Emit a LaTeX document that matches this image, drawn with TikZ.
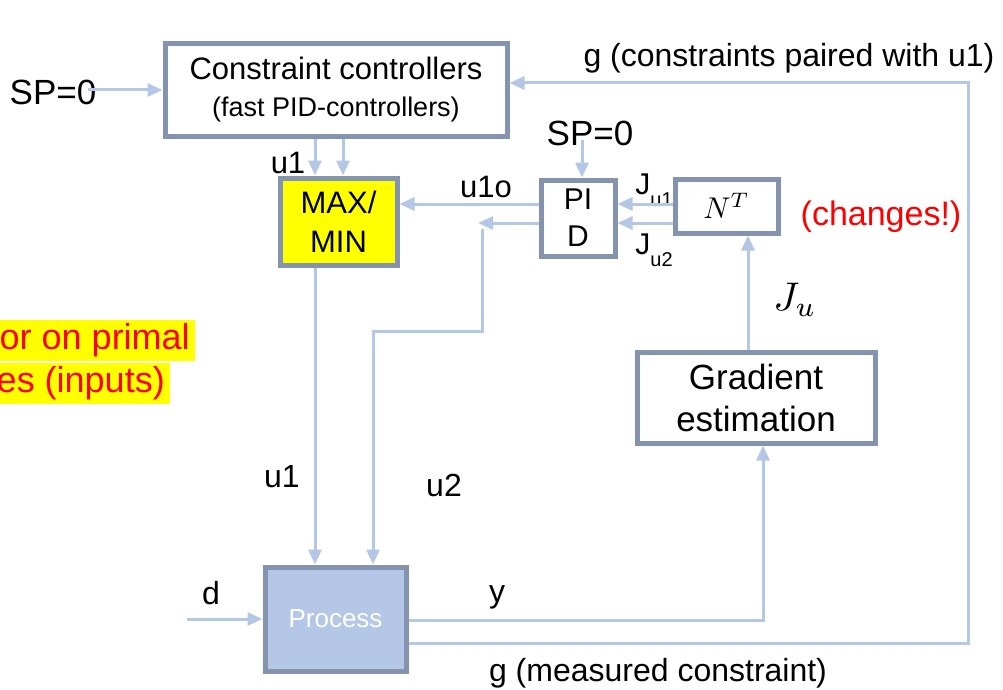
\documentclass[tikz,border=0pt]{standalone}
\usepackage{graphicx}
\usepackage{fontspec}
\setmainfont{Liberation Sans}
\usetikzlibrary{arrows.meta}
\definecolor{ln}{HTML}{B4C7E7}
\definecolor{bd}{HTML}{8594AE}
\definecolor{hl}{HTML}{FFFF00}
\newcommand{\fsz}[2]{\fontsize{#1}{#2}\selectfont}
\tikzset{
 blk/.style={draw=bd, line width=5pt, inner sep=0pt, align=center, fill=white},
 con/.style={draw=ln, line width=3pt},
 arr/.style={con, -{Triangle[length=15pt,width=13pt]}},
 lbl/.style={inner sep=0pt, align=center},
 warn/.style={fill=hl, text=red, inner xsep=5pt, inner ysep=0pt, minimum height=41pt, anchor=east, font=\fsz{36}{40}}
}
\begin{document}
\begin{tikzpicture}[x=1pt,y=-1pt]
\useasboundingbox (0,0) rectangle (1003,690);
% blocks
\node[blk, minimum width=342pt, minimum height=92pt, font=\fsz{31}{37}] (cc) at (336,90)
  {Constraint controllers\\{\fsz{27}{37}(fast PID-controllers)}};
\node[blk, fill=hl, minimum width=117pt, minimum height=87pt, font=\fsz{31}{39}] (mm) at (338.5,221.5) {MAX/\\MIN};
\node[blk, minimum width=74pt, minimum height=76pt, font=\fsz{30}{37}] (pid) at (578,218) {PI\\D};
\node[blk, minimum width=103pt, minimum height=54pt] (nt) at (726.5,206) {\scalebox{3}{$N^T$}};
\node[blk, minimum width=238pt, minimum height=91pt, font=\fsz{35}{42}] (ge) at (756,397.5) {Gradient\\estimation};
\node[blk, fill=ln, text=white, minimum width=141pt, minimum height=104pt, font=\fsz{26}{30}] (pr) at (335.5,619) {Process};
% labels
\node[lbl, font=\fsz{35}{40}] (sp1) at (53,92) {SP=0};
\node[lbl, font=\fsz{35}{40}] (sp2) at (590,133) {SP=0};
\node[lbl, font=\fsz{31}{36}] (lu1a) at (288,163) {u1};
\node[lbl, font=\fsz{31}{36}] (lu1o) at (486,187) {u1o};
\node[lbl, font=\fsz{30}{36}] (lj1) at (654,190) {J\raisebox{-0.4em}{\fsz{20}{24}u1}};
\node[lbl, font=\fsz{30}{36}] (lj2) at (654,250) {J\raisebox{-0.4em}{\fsz{20}{24}u2}};
\node[lbl, font=\fsz{34}{40}, text=red] (lch) at (881,217) {(changes!)};
\node[lbl, font=\fsz{32}{38}] (lg1) at (789,58) {g (constraints paired with u1)};
\node[lbl] (lju) at (795,300) {\scalebox{4}{$J_u$}};
\node[lbl, font=\fsz{32}{38}] (lu1b) at (282,477) {u1};
\node[lbl, font=\fsz{32}{38}] (lu2) at (444,485) {u2};
\node[lbl, font=\fsz{32}{38}] (ld) at (211,593) {d};
\node[lbl, font=\fsz{32}{38}] (ly) at (497,597) {y};
\node[lbl, font=\fsz{32}{38}] (lg2) at (658,673) {g (measured constraint)};
\node[warn] (w1) at (195,340.5) {or on primal};
\node[warn] (w2) at (170,383) {es (inputs)};
% helper coordinates
\coordinate (spl) at (88,90);
\coordinate (c1) at (315,0);
\coordinate (c2) at (343,0);
\coordinate (ya) at (0,204);
\coordinate (yb) at (0,223);
\coordinate (jn) at (478,223);
\coordinate (k1) at (482,229);
\coordinate (k2) at (482,331);
\coordinate (k3) at (373,331);
\coordinate (sps) at (582,140);
\coordinate (cg) at (748,0);
\coordinate (cy) at (763,620);
\coordinate (gr) at (968,643);
\coordinate (gt) at (968,83);
\coordinate (dl) at (187,619);
% connectors
\draw[arr] (spl) -- (cc.west |- spl);
\draw[arr] (cc.south -| c1) -- (mm.north -| c1);
\draw[arr] (cc.south -| c2) -- (mm.north -| c2);
\draw[arr] (pid.west |- ya) -- (mm.east |- ya);
\draw[arr] (pid.west |- yb) -- (jn);
\draw[arr] (k1) -- (k2) -- (k3) -- (pr.north -| k3);
\draw[arr] (mm.south -| c1) -- (pr.north -| c1);
\draw[arr] (sps) -- (pid.north -| sps);
\draw[arr] (nt.west |- ya) -- (pid.east |- ya);
\draw[arr] (nt.west |- yb) -- (pid.east |- yb);
\draw[arr] (ge.north -| cg) -- (nt.south -| cg);
\draw[arr] (pr.east |- cy) -- (cy) -- (ge.south -| cy);
\draw[arr] (pr.east |- gr) -- (gr) -- (gt) -- (cc.east |- gt);
\draw[arr] (dl) -- (pr.west |- dl);
\end{tikzpicture}
\end{document}
